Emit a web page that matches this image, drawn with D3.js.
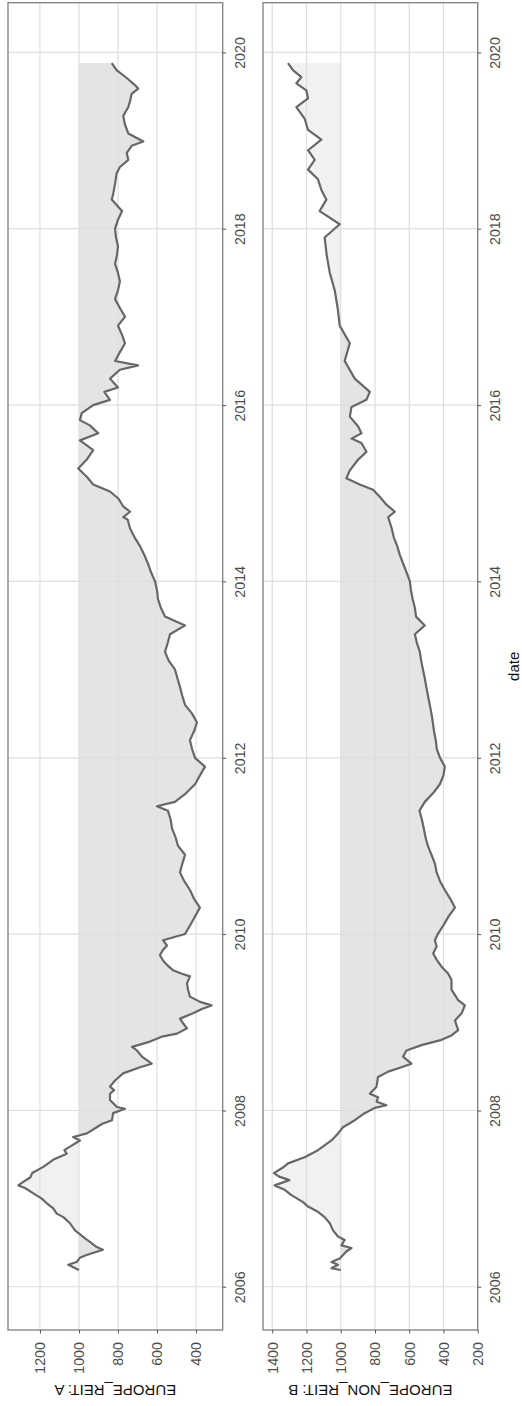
<!DOCTYPE html>
<html>
<head>
<meta charset="utf-8">
<script src="https://cdn.jsdelivr.net/npm/d3@7"></script>
<style>
  body { margin: 0; background: #fff; }
  svg { display: block; }
</style>
</head>
<body>
<svg id="chart" width="522" height="1406"></svg>
<script>
// Index levels (base 1000), sampled by decimal year
const yearsA = [2006.19,2006.25,2006.28,2006.33,2006.36,2006.42,2006.45,2006.51,2006.55,2006.61,2006.64,2006.72,2006.79,2006.83,2006.89,2006.95,2007.00,2007.06,2007.12,2007.15,2007.19,2007.24,2007.29,2007.36,2007.44,2007.51,2007.55,2007.59,2007.66,2007.70,2007.74,2007.81,2007.85,2007.89,2007.97,2008.02,2008.04,2008.12,2008.19,2008.23,2008.27,2008.34,2008.42,2008.49,2008.53,2008.61,2008.68,2008.72,2008.78,2008.84,2008.87,2008.93,2008.99,2009.04,2009.10,2009.15,2009.19,2009.23,2009.29,2009.37,2009.44,2009.52,2009.55,2009.59,2009.65,2009.70,2009.76,2009.82,2009.87,2009.93,2010.0,2010.1,2010.2,2010.3,2010.4,2010.5,2010.6,2010.7,2010.8,2010.9,2011.0,2011.1,2011.2,2011.3,2011.4,2011.45,2011.5,2011.6,2011.7,2011.8,2011.9,2012.0,2012.1,2012.2,2012.3,2012.4,2012.5,2012.6,2012.7,2012.8,2012.9,2013.0,2013.1,2013.2,2013.3,2013.4,2013.5,2013.6,2013.7,2013.8,2013.9,2014.0,2014.1,2014.2,2014.3,2014.4,2014.5,2014.6,2014.7,2014.73,2014.79,2014.85,2014.94,2015.02,2015.10,2015.19,2015.28,2015.38,2015.49,2015.60,2015.68,2015.77,2015.83,2015.91,2016.0,2016.06,2016.15,2016.2,2016.3,2016.4,2016.45,2016.5,2016.6,2016.7,2016.8,2016.9,2017.0,2017.1,2017.2,2017.3,2017.4,2017.5,2017.6,2017.7,2017.8,2017.9,2018.0,2018.1,2018.2,2018.33,2018.40,2018.51,2018.63,2018.70,2018.78,2018.86,2018.94,2018.99,2019.08,2019.18,2019.28,2019.38,2019.45,2019.53,2019.59,2019.63,2019.71,2019.80,2019.88];
const valuesA = [1000,1055,1012,995,961,877,909,944,969,1004,1020,1046,1080,1114,1132,1166,1191,1234,1277,1311,1286,1250,1240,1183,1133,1063,1075,1046,995,1030,959,909,880,831,825,764,805,841,841,820,841,815,774,687,627,677,703,728,636,569,497,446,467,482,415,370,320,379,431,441,446,431,472,518,549,569,585,569,549,569,456,430,405,380,410,431,460,482,470,456,492,505,523,530,544,600,508,450,405,380,354,405,420,431,410,395,420,456,470,482,495,508,540,559,545,533,456,559,580,595,600,610,630,646,665,687,715,738,750,773,738,773,798,841,927,961,1004,961,927,995,901,944,995,986,927,841,870,800,841,790,697,815,790,764,780,800,764,790,815,800,790,800,815,805,800,810,815,800,779,832,824,815,807,790,747,755,730,670,747,764,773,747,738,730,696,713,755,807,832];

const yearsB = [2006.19,2006.21,2006.25,2006.28,2006.32,2006.40,2006.44,2006.47,2006.53,2006.57,2006.64,2006.72,2006.79,2006.85,2006.91,2006.96,2007.04,2007.10,2007.15,2007.21,2007.25,2007.29,2007.35,2007.40,2007.47,2007.55,2007.66,2007.74,2007.81,2007.89,2007.97,2008.03,2008.06,2008.10,2008.15,2008.19,2008.27,2008.38,2008.44,2008.49,2008.53,2008.61,2008.68,2008.74,2008.80,2008.85,2008.91,2009.02,2009.10,2009.19,2009.25,2009.37,2009.48,2009.55,2009.63,2009.71,2009.78,2009.86,2009.93,2010.0,2010.1,2010.2,2010.3,2010.4,2010.5,2010.6,2010.7,2010.8,2010.9,2011.0,2011.1,2011.2,2011.3,2011.4,2011.5,2011.6,2011.7,2011.8,2011.9,2012.0,2012.1,2012.2,2012.3,2012.4,2012.5,2012.6,2012.7,2012.8,2012.9,2013.0,2013.1,2013.2,2013.3,2013.4,2013.5,2013.6,2013.7,2013.8,2013.9,2014.0,2014.1,2014.2,2014.3,2014.4,2014.5,2014.6,2014.73,2014.79,2014.87,2014.96,2015.04,2015.10,2015.17,2015.26,2015.38,2015.47,2015.57,2015.62,2015.68,2015.76,2015.87,2015.98,2016.06,2016.15,2016.3,2016.5,2016.7,2016.9,2017.1,2017.3,2017.5,2017.7,2017.9,2018.05,2018.2,2018.33,2018.44,2018.56,2018.67,2018.78,2018.89,2019.01,2019.12,2019.25,2019.38,2019.48,2019.57,2019.65,2019.72,2019.80,2019.88];
const valuesB = [1000,1054,1016,1054,1006,967,937,996,977,1016,1045,1064,1094,1133,1191,1220,1288,1327,1386,1300,1360,1390,1340,1308,1211,1133,1054,1016,987,918,860,801,733,790,782,830,791,782,723,645,587,636,616,528,411,353,314,333,294,275,314,353,353,372,411,440,460,440,450,433,400,370,333,360,392,420,440,450,470,491,505,515,526,540,509,460,421,400,392,420,439,445,455,462,470,480,490,500,509,520,530,538,555,567,509,560,567,580,590,596,615,635,655,670,690,702,723,684,733,772,811,889,967,947,899,850,879,937,879,899,947,937,850,830,918,977,947,1006,1018,1035,1064,1082,1094,1006,1123,1084,1113,1133,1191,1152,1191,1113,1191,1211,1259,1191,1201,1259,1230,1279,1308];

const dateTicks = [2006, 2008, 2010, 2012, 2014, 2016, 2018, 2020];
const ticksA = [400, 600, 800, 1000, 1200];
const ticksB = [200, 400, 600, 800, 1000, 1200, 1400];
const baseline = 1000;
const titles = ["EUROPE_REIT: A", "EUROPE_NON_REIT: B"];

// decimal year -> UTC date
function toDate(y) {
  const yr = Math.floor(y);
  const a = Date.UTC(yr, 0, 1), b = Date.UTC(yr + 1, 0, 1);
  return new Date(a + (y - yr) * (b - a));
}

const svg = d3.select("#chart");
const plotTop = 2.7, plotBottom = 1330;

// the time axis runs bottom -> top, values run right -> left
const yDate = d3.scaleUtc()
  .domain([toDate(2005.509), toDate(2020.563)])
  .range([plotBottom, plotTop]);

const panels = [
  { years: yearsA, values: valuesA, ticks: ticksA, title: titles[0],
    x0: 8, x1: 222.7, domain: [1364, 263], dateLabelX: 240 },
  { years: yearsB, values: valuesB, ticks: ticksB, title: titles[1],
    x0: 263, x1: 477.7, domain: [1454, 200], dateLabelX: 495 }
];

const gridColor = "#dedede";
const textColor = "#4d4d4d";
const defs = svg.append("defs");

panels.forEach((p, i) => {
  const x = d3.scaleLinear().domain(p.domain).range([p.x0, p.x1]);
  const data = p.years.map((y, k) => ({ date: toDate(y), value: p.values[k] }));
  const g = svg.append("g");

  // clip regions: above and below the base level
  const xb = x(baseline);
  defs.append("clipPath").attr("id", "above" + i).append("rect")
    .attr("x", p.x0).attr("y", plotTop).attr("width", xb - p.x0).attr("height", plotBottom - plotTop);
  defs.append("clipPath").attr("id", "below" + i).append("rect")
    .attr("x", xb).attr("y", plotTop).attr("width", p.x1 - xb).attr("height", plotBottom - plotTop);

  const area = d3.area()
    .y(d => yDate(d.date))
    .x0(() => xb)
    .x1(d => x(d.value));

  g.append("path").datum(data).attr("d", area)
    .attr("fill", "#f1f1f1").attr("clip-path", `url(#above${i})`);
  g.append("path").datum(data).attr("d", area)
    .attr("fill", "#e4e4e4").attr("clip-path", `url(#below${i})`);

  // grid lines
  g.selectAll(".vgrid").data(p.ticks).join("line")
    .attr("x1", d => x(d)).attr("x2", d => x(d))
    .attr("y1", plotTop).attr("y2", plotBottom)
    .attr("stroke", gridColor).attr("stroke-width", 1.2);
  g.selectAll(".hgrid").data(dateTicks).join("line")
    .attr("y1", d => yDate(toDate(d))).attr("y2", d => yDate(toDate(d)))
    .attr("x1", p.x0).attr("x2", p.x1)
    .attr("stroke", gridColor).attr("stroke-width", 1.2);

  // series line
  const line = d3.line().y(d => yDate(d.date)).x(d => x(d.value));
  g.append("path").datum(data).attr("d", line)
    .attr("fill", "none").attr("stroke", "#676767")
    .attr("stroke-width", 2.2).attr("stroke-linejoin", "round");

  // panel border
  g.append("rect").attr("x", p.x0).attr("y", plotTop)
    .attr("width", p.x1 - p.x0).attr("height", plotBottom - plotTop)
    .attr("fill", "none").attr("stroke", "#7f7f7f").attr("stroke-width", 1.3);

  // value axis (below the panel), labels read bottom-to-top
  const vAxis = g.append("g").attr("transform", `translate(0,${plotBottom})`)
    .call(d3.axisBottom(x).tickValues(p.ticks).tickSize(3.5).tickFormat(d3.format("d")));
  vAxis.select(".domain").remove();
  vAxis.selectAll(".tick line").attr("stroke", "#555");
  vAxis.selectAll(".tick text")
    .attr("y", 0).attr("dy", null)
    .attr("transform", "translate(0,12) rotate(-90)")
    .attr("text-anchor", "end")
    .attr("dominant-baseline", "central")
    .attr("fill", textColor)
    .style("font", "14.3px 'Liberation Sans', Arial, sans-serif");

  // date axis (right of the panel)
  const dAxis = g.append("g").attr("transform", `translate(${p.x1},0)`)
    .call(d3.axisRight(yDate).tickValues(dateTicks.map(toDate)).tickSize(3.5)
      .tickFormat(d3.utcFormat("%Y")));
  dAxis.select(".domain").remove();
  dAxis.selectAll(".tick line").attr("stroke", "#555");
  dAxis.selectAll(".tick text")
    .attr("x", 0).attr("dy", null)
    .attr("transform", `translate(${p.dateLabelX - p.x1},0) rotate(-90)`)
    .attr("text-anchor", "middle")
    .attr("dominant-baseline", "central")
    .attr("fill", textColor)
    .style("font", "14.3px 'Liberation Sans', Arial, sans-serif");

  // facet title, upside down under the value axis
  g.append("text")
    .attr("transform", `translate(${(p.x0 + p.x1) / 2},1390) rotate(180)`)
    .attr("text-anchor", "middle").attr("dominant-baseline", "central")
    .attr("fill", "#111")
    .style("font", "15px 'Liberation Sans', Arial, sans-serif")
    .text(p.title);
});

// shared time axis title
svg.append("text")
  .attr("transform", `translate(513,${(plotTop + plotBottom) / 2}) rotate(-90)`)
  .attr("text-anchor", "middle").attr("dominant-baseline", "central")
  .attr("fill", "#111")
  .style("font", "15px 'Liberation Sans', Arial, sans-serif")
  .text("date");
</script>
</body>
</html>
